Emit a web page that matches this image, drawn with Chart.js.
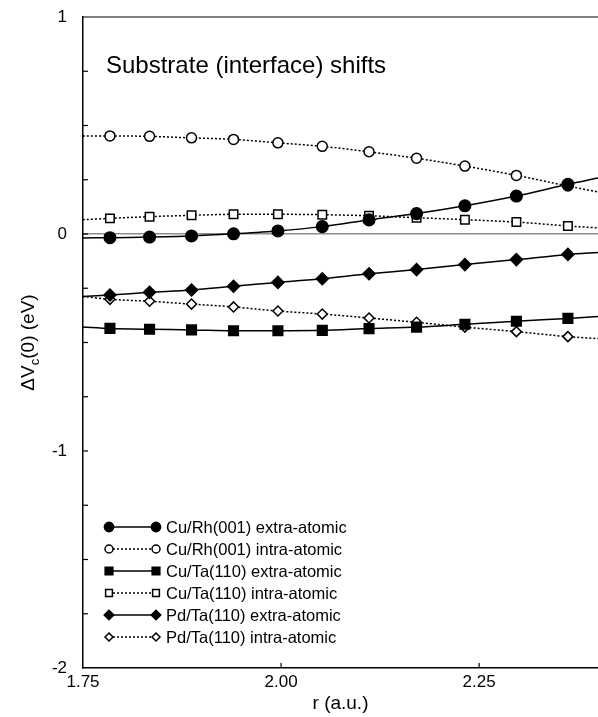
<!DOCTYPE html>
<html><head><meta charset="utf-8">
<script src="https://cdn.jsdelivr.net/npm/chart.js@4.4.1/dist/chart.umd.min.js"></script>
<style>html,body{margin:0;padding:0;background:#fff;overflow:hidden}canvas{display:block}</style>
</head><body>
<canvas id="c" width="598" height="717"></canvas>
<script>
// r (a.u.): first and last entries are where the fitted curves meet the frame (no marker)
const rValues = [1.75, 1.784, 1.834, 1.887, 1.940, 1.996, 2.052, 2.111, 2.171, 2.232, 2.297, 2.362, 2.40];
const cuRhExtra = [-0.018, -0.017, -0.014, -0.009, 0.001, 0.014, 0.034, 0.065, 0.094, 0.130, 0.175, 0.229, 0.258];
const cuRhIntra = [0.452, 0.452, 0.450, 0.443, 0.436, 0.420, 0.404, 0.379, 0.349, 0.313, 0.270, 0.221, 0.194];
const cuTaExtra = [-0.428, -0.435, -0.439, -0.442, -0.446, -0.446, -0.444, -0.436, -0.429, -0.416, -0.402, -0.389, -0.380];
const cuTaIntra = [0.066, 0.072, 0.080, 0.086, 0.091, 0.091, 0.089, 0.084, 0.075, 0.066, 0.055, 0.037, 0.028];
const pdTaExtra = [-0.288, -0.281, -0.269, -0.258, -0.241, -0.223, -0.206, -0.183, -0.164, -0.141, -0.118, -0.094, -0.085];
const pdTaIntra = [-0.288, -0.301, -0.310, -0.323, -0.336, -0.355, -0.369, -0.387, -0.407, -0.429, -0.450, -0.473, -0.482];
const seriesLabels = ["Cu/Rh(001) extra-atomic","Cu/Rh(001) intra-atomic","Cu/Ta(110) extra-atomic","Cu/Ta(110) intra-atomic","Pd/Ta(110) extra-atomic","Pd/Ta(110) intra-atomic"];
const xTickLabels = [1.75, 2.00, 2.25];
const yTickLabels = [1, 0, -1, -2];
const chartTitle = "Substrate (interface) shifts";

const FONT = '"Liberation Sans", Arial, Helvetica, sans-serif';
const last = rValues.length - 1;
function pts(arr){ return rValues.map((x,i)=>({x:x, y:arr[i]})); }
function radiusFn(r){ return ctx => (ctx.dataIndex===0 || ctx.dataIndex===last) ? 0 : r; }

const styles = [
  {data:cuRhExtra, pointStyle:'circle', r:5.8, fill:'#000', dash:[]},
  {data:cuRhIntra, pointStyle:'circle', r:5, fill:'#fff', dash:[2,2]},
  {data:cuTaExtra, pointStyle:'rect', r:6.8, fill:'#000', dash:[]},
  {data:cuTaIntra, pointStyle:'rect', r:6, fill:'#fff', dash:[2,2]},
  {data:pdTaExtra, pointStyle:'rectRot', r:6, fill:'#000', dash:[]},
  {data:pdTaIntra, pointStyle:'rectRot', r:5, fill:'#fff', dash:[2,2]}
];

const datasets = styles.map((s,i)=>({
  label: seriesLabels[i],
  data: pts(s.data),
  borderColor:'#000',
  borderWidth:1.5,
  borderDash:s.dash,
  backgroundColor:s.fill,
  pointStyle:s.pointStyle,
  pointRadius:radiusFn(s.r),
  pointBackgroundColor:s.fill,
  pointBorderColor:'#000',
  pointBorderWidth:1.5,
  tension:0.3,
  fill:false
}));

function drawMarker(ctx, style, r, fill, x, y){
  ctx.save();
  ctx.beginPath();
  if(style==='circle'){ ctx.arc(x,y,r,0,Math.PI*2); }
  else if(style==='rect'){ const s=Math.SQRT1_2*r; ctx.rect(x-s,y-s,2*s,2*s); }
  else { ctx.moveTo(x-r,y); ctx.lineTo(x,y-r); ctx.lineTo(x+r,y); ctx.lineTo(x,y+r); ctx.closePath(); }
  ctx.fillStyle=fill; ctx.fill();
  ctx.lineWidth=1.5; ctx.strokeStyle='#000'; ctx.setLineDash([]); ctx.stroke();
  ctx.restore();
}

const decor = {
  id:'decor',
  afterDraw(chart){
    const ctx = chart.ctx, a = chart.chartArea;
    const xs = chart.scales.x, ys = chart.scales.y;
    ctx.save();
    ctx.strokeStyle='#000'; ctx.lineWidth=1.2;
    // top frame
    ctx.beginPath(); ctx.moveTo(a.left, a.top); ctx.lineTo(a.right, a.top); ctx.stroke();
    // inward y ticks every 0.25
    for(let v=-1.75; v<1; v+=0.25){
      const y = ys.getPixelForValue(v);
      ctx.beginPath(); ctx.moveTo(a.left, y); ctx.lineTo(a.left+5, y); ctx.stroke();
    }
    // inward x ticks
    xTickLabels.slice(1).forEach(v=>{
      const x = xs.getPixelForValue(v);
      ctx.beginPath(); ctx.moveTo(x, a.bottom); ctx.lineTo(x, a.bottom-5); ctx.stroke();
    });
    // title inside plot
    ctx.fillStyle='#000';
    ctx.font = '24px '+FONT; ctx.textBaseline='alphabetic'; ctx.textAlign='left';
    ctx.fillText(chartTitle, a.left+23, a.top+56);
    // y-axis title with subscript
    ctx.save();
    ctx.translate(29, (a.top+a.bottom)/2);
    ctx.rotate(-Math.PI/2);
    ctx.textBaseline='middle';
    const p1='\u0394V', p2='c', p3='(0) (eV)';
    ctx.font='19px '+FONT; const w1=ctx.measureText(p1).width, w3=ctx.measureText(p3).width;
    ctx.font='13px '+FONT; const w2=ctx.measureText(p2).width;
    let x0 = -(w1+w2+w3)/2;
    ctx.font='19px '+FONT; ctx.fillText(p1, x0, 0);
    ctx.font='13px '+FONT; ctx.fillText(p2, x0+w1, 6);
    ctx.font='19px '+FONT; ctx.fillText(p3, x0+w1+w2, 0);
    ctx.restore();
    // legend
    const lx1=109, lx2=156, tx=166, ly0=527, gap=22;
    styles.forEach((s,i)=>{
      const y = ly0 + i*gap;
      ctx.save();
      ctx.beginPath(); ctx.setLineDash(s.dash); ctx.lineWidth=1.5; ctx.strokeStyle='#000';
      ctx.moveTo(lx1,y); ctx.lineTo(lx2,y); ctx.stroke();
      ctx.restore();
      drawMarker(ctx, s.pointStyle, s.r*0.8, s.fill, lx1, y);
      drawMarker(ctx, s.pointStyle, s.r*0.8, s.fill, lx2, y);
      ctx.fillStyle='#000'; ctx.font='16.5px '+FONT; ctx.textBaseline='middle'; ctx.textAlign='left';
      ctx.fillText(seriesLabels[i], tx, y+1);
    });
    ctx.restore();
  }
};

new Chart(document.getElementById('c'), {
  type:'line',
  data:{datasets:datasets},
  options:{
    responsive:false, animation:false,
    layout:{padding:{top:17, right:0, left:0, bottom:0}},
    plugins:{legend:{display:false}, tooltip:{enabled:false}},
    scales:{
      x:{
        type:'linear', min:1.75, max:2.40,
        afterFit: s => { s.height = 49; s.paddingLeft = 0; s.paddingRight = 0; },
        border:{display:true, color:'#000', width:1.5},
        grid:{display:false, drawTicks:false},
        ticks:{stepSize:0.25, includeBounds:false, padding:4, color:'#000',
          font:{family:FONT, size:17},
          callback: v => xTickLabels.some(t=>Math.abs(t-v)<1e-6) ? Number(v).toFixed(2) : ''},
        title:{display:true, text:'r (a.u.)', color:'#000', font:{family:FONT, size:19}, padding:{top:0,bottom:2}}
      },
      y:{
        type:'linear', min:-2, max:1,
        afterFit: s => { s.width = 83; s.paddingTop = 0; s.paddingBottom = 0; },
        border:{display:true, color:'#000', width:1.5},
        grid:{drawTicks:false, lineWidth:1.5,
          color: c => (c.tick && c.tick.value===0) ? '#8c8c8c' : 'rgba(0,0,0,0)'},
        ticks:{stepSize:0.25, padding:16, color:'#000', font:{family:FONT, size:17},
          callback: v => yTickLabels.includes(v) ? String(v) : ''}
      }
    }
  },
  plugins:[decor]
});
</script>
</body></html>
